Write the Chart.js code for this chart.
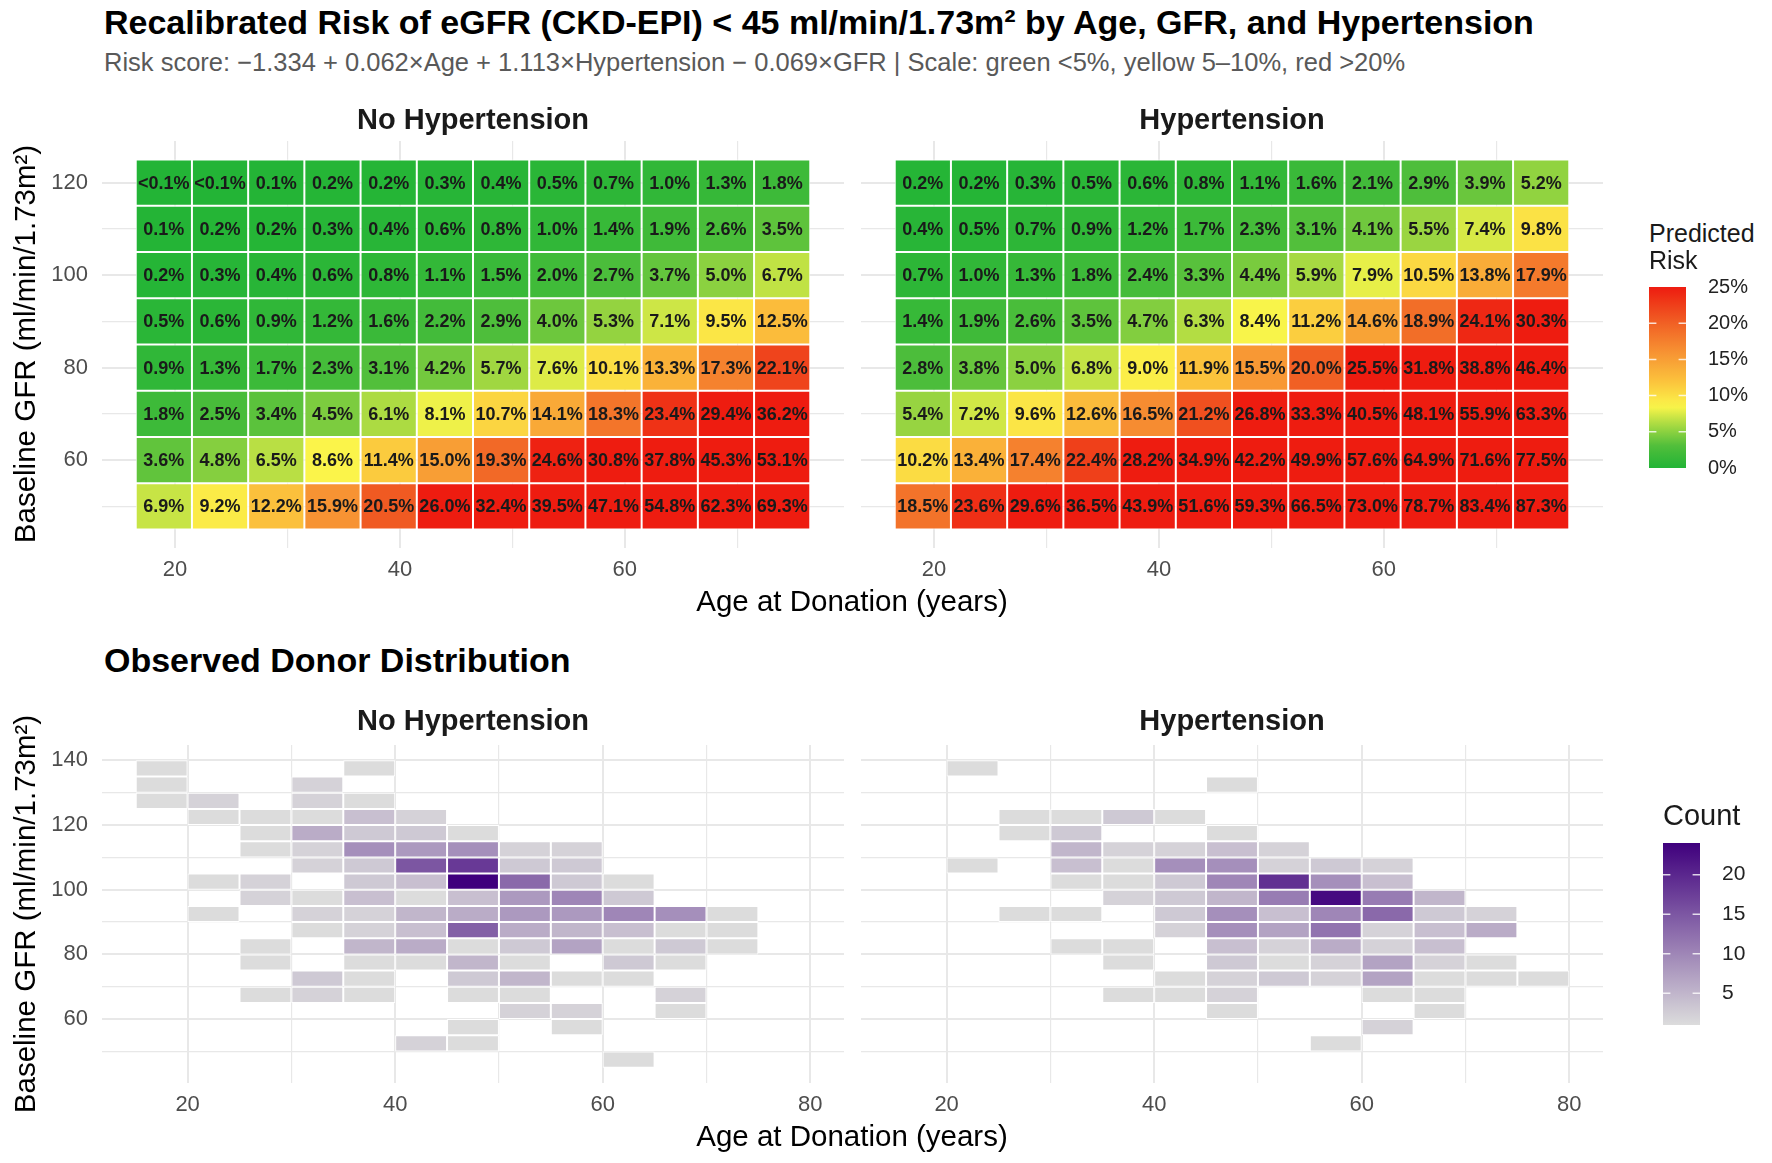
<!DOCTYPE html>
<html>
<head>
<meta charset="utf-8">
<title>Recalibrated risk of eGFR &lt; 45</title>
<script src="https://cdn.jsdelivr.net/npm/chart.js@4.4.1/dist/chart.umd.min.js"></script>
<style>
  body { margin: 0; background: #fff; }
  #page { position: relative; width: 1772px; height: 1163px; overflow: hidden;
          font-family: "Liberation Sans", Arial, Helvetica, sans-serif; }
  .txt { position: absolute; white-space: nowrap; line-height: 1; }
  canvas { position: absolute; }
</style>
</head>
<body>
<div id="page"></div>
<script>
// ---- values ----

// top row: predicted risk (%), rows = baseline GFR, cols = age at donation
const riskAges = [19, 24, 29, 34, 39, 44, 49, 54, 59, 64, 69, 74];
const riskGfr = [120, 110, 100, 90, 80, 70, 60, 50];
const riskNoHtn = [
  [0.05, 0.05, 0.1, 0.2, 0.2, 0.3, 0.4, 0.5, 0.7, 1.0, 1.3, 1.8],
  [0.1, 0.2, 0.2, 0.3, 0.4, 0.6, 0.8, 1.0, 1.4, 1.9, 2.6, 3.5],
  [0.2, 0.3, 0.4, 0.6, 0.8, 1.1, 1.5, 2.0, 2.7, 3.7, 5.0, 6.7],
  [0.5, 0.6, 0.9, 1.2, 1.6, 2.2, 2.9, 4.0, 5.3, 7.1, 9.5, 12.5],
  [0.9, 1.3, 1.7, 2.3, 3.1, 4.2, 5.7, 7.6, 10.1, 13.3, 17.3, 22.1],
  [1.8, 2.5, 3.4, 4.5, 6.1, 8.1, 10.7, 14.1, 18.3, 23.4, 29.4, 36.2],
  [3.6, 4.8, 6.5, 8.6, 11.4, 15.0, 19.3, 24.6, 30.8, 37.8, 45.3, 53.1],
  [6.9, 9.2, 12.2, 15.9, 20.5, 26.0, 32.4, 39.5, 47.1, 54.8, 62.3, 69.3]
];
const riskHtn = [
  [0.2, 0.2, 0.3, 0.5, 0.6, 0.8, 1.1, 1.6, 2.1, 2.9, 3.9, 5.2],
  [0.4, 0.5, 0.7, 0.9, 1.2, 1.7, 2.3, 3.1, 4.1, 5.5, 7.4, 9.8],
  [0.7, 1.0, 1.3, 1.8, 2.4, 3.3, 4.4, 5.9, 7.9, 10.5, 13.8, 17.9],
  [1.4, 1.9, 2.6, 3.5, 4.7, 6.3, 8.4, 11.2, 14.6, 18.9, 24.1, 30.3],
  [2.8, 3.8, 5.0, 6.8, 9.0, 11.9, 15.5, 20.0, 25.5, 31.8, 38.8, 46.4],
  [5.4, 7.2, 9.6, 12.6, 16.5, 21.2, 26.8, 33.3, 40.5, 48.1, 55.9, 63.3],
  [10.2, 13.4, 17.4, 22.4, 28.2, 34.9, 42.2, 49.9, 57.6, 64.9, 71.6, 77.5],
  [18.5, 23.6, 29.6, 36.5, 43.9, 51.6, 59.3, 66.5, 73.0, 78.7, 83.4, 87.3]
];

// bottom row: donor counts per 5-year x 5-unit bin (lower bin edges), 0 = empty
const countAges = [15, 20, 25, 30, 35, 40, 45, 50, 55, 60, 65, 70, 75];
const countGfr = [135, 130, 125, 120, 115, 110, 105, 100, 95, 90, 85, 80, 75, 70, 65, 60, 55, 50, 45];
const countNoHtn = [
  [1, 0, 0, 0, 1, 0, 0, 0, 0, 0, 0, 0, 0],
  [1, 0, 0, 2, 0, 0, 0, 0, 0, 0, 0, 0, 0],
  [1, 2, 0, 2, 1, 0, 0, 0, 0, 0, 0, 0, 0],
  [0, 1, 1, 1, 4, 2, 0, 0, 0, 0, 0, 0, 0],
  [0, 0, 1, 6, 3, 3, 1, 0, 0, 0, 0, 0, 0],
  [0, 0, 1, 2, 9, 8, 9, 2, 2, 0, 0, 0, 0],
  [0, 0, 0, 2, 3, 15, 18, 3, 3, 0, 0, 0, 0],
  [0, 1, 2, 0, 3, 4, 24, 13, 3, 1, 0, 0, 0],
  [0, 0, 2, 1, 4, 1, 4, 8, 10, 3, 0, 0, 0],
  [0, 1, 0, 2, 2, 5, 6, 8, 8, 10, 9, 1, 0],
  [0, 0, 0, 1, 2, 4, 14, 6, 5, 4, 1, 1, 0],
  [0, 0, 1, 0, 5, 6, 1, 3, 7, 1, 3, 1, 0],
  [0, 0, 1, 0, 1, 1, 5, 1, 0, 3, 1, 0, 0],
  [0, 0, 0, 3, 1, 0, 3, 5, 1, 1, 0, 0, 0],
  [0, 0, 1, 2, 1, 0, 1, 1, 0, 0, 2, 0, 0],
  [0, 0, 0, 0, 0, 0, 0, 2, 2, 0, 1, 0, 0],
  [0, 0, 0, 0, 0, 0, 1, 0, 1, 0, 0, 0, 0],
  [0, 0, 0, 0, 0, 2, 1, 0, 0, 0, 0, 0, 0],
  [0, 0, 0, 0, 0, 0, 0, 0, 0, 1, 0, 0, 0]
];
const countHtn = [
  [0, 1, 0, 0, 0, 0, 0, 0, 0, 0, 0, 0, 0],
  [0, 0, 0, 0, 0, 0, 1, 0, 0, 0, 0, 0, 0],
  [0, 0, 0, 0, 0, 0, 0, 0, 0, 0, 0, 0, 0],
  [0, 0, 1, 1, 3, 1, 0, 0, 0, 0, 0, 0, 0],
  [0, 0, 1, 3, 0, 0, 1, 0, 0, 0, 0, 0, 0],
  [0, 0, 0, 5, 2, 2, 4, 2, 0, 0, 0, 0, 0],
  [0, 1, 0, 4, 1, 9, 9, 2, 3, 2, 0, 0, 0],
  [0, 0, 0, 1, 1, 3, 10, 19, 9, 4, 0, 0, 0],
  [0, 0, 0, 0, 2, 3, 5, 11, 23, 11, 5, 0, 0],
  [0, 0, 1, 1, 0, 3, 9, 4, 10, 13, 3, 2, 0],
  [0, 0, 0, 0, 0, 2, 9, 7, 12, 2, 4, 6, 0],
  [0, 0, 0, 1, 1, 0, 4, 2, 6, 2, 4, 0, 0],
  [0, 0, 0, 0, 1, 0, 3, 1, 2, 7, 2, 1, 0],
  [0, 0, 0, 0, 0, 1, 2, 3, 2, 7, 1, 1, 1],
  [0, 0, 0, 0, 1, 1, 2, 0, 0, 1, 1, 0, 0],
  [0, 0, 0, 0, 0, 0, 1, 0, 0, 0, 1, 0, 0],
  [0, 0, 0, 0, 0, 0, 0, 0, 0, 2, 0, 0, 0],
  [0, 0, 0, 0, 0, 0, 0, 0, 1, 0, 0, 0, 0],
  [0, 0, 0, 0, 0, 0, 0, 0, 0, 0, 0, 0, 0]
];

// labelled ticks
const topAgeLabels = [20, 40, 60];
const topGfrLabels = [60, 80, 100, 120];
const botAgeLabels = [20, 40, 60, 80];
const botGfrLabels = [60, 80, 100, 120, 140];

// ---- colours ----
const riskPalette = [[0, '#22b436'], [3, '#4fbe3b'], [6, '#a9da42'], [8.5, '#fbf54a'],
  [12, '#fbc23c'], [16, '#f79233'], [20.5, '#f05a22'], [25, '#ee1c10']];
const countPalette = [[1, '#dcdcdc'], [24, '#3f007d']];

function hexRgb(h) {
  return [1, 3, 5].map(i => parseInt(h.slice(i, i + 2), 16));
}
function ramp(stops, v) {
  if (v <= stops[0][0]) return stops[0][1];
  for (let i = 1; i < stops.length; i++) {
    if (v <= stops[i][0]) {
      const t = (v - stops[i - 1][0]) / (stops[i][0] - stops[i - 1][0]);
      const a = hexRgb(stops[i - 1][1]), b = hexRgb(stops[i][1]);
      return 'rgb(' + a.map((x, k) => Math.round(x + (b[k] - x) * t)).join(',') + ')';
    }
  }
  return stops[stops.length - 1][1];
}
const riskColor = v => ramp(riskPalette, v);
const countColor = v => ramp(countPalette, v);

// ---- cells ----
function riskCells(grid) {
  const out = [];
  riskGfr.forEach((g, r) => riskAges.forEach((a, c) => {
    out.push({ x: a, y: [g - 5, g + 5], v: grid[r][c] });
  }));
  return out;
}
function countCells(grid) {
  const out = [];
  countGfr.forEach((g, r) => countAges.forEach((a, c) => {
    if (grid[r][c] > 0) out.push({ x: a + 2.5, y: [g, g + 5], v: grid[r][c] });
  }));
  return out;
}

// ---- page helpers ----
const FONT = '"Liberation Sans", Arial, Helvetica, sans-serif';
Chart.defaults.font.family = FONT;
Chart.defaults.animation = false;
Chart.defaults.plugins.legend.display = false;
Chart.defaults.plugins.tooltip.enabled = false;

const page = document.getElementById('page');

function text(str, x, y, size, o) {
  o = o || {};
  const d = document.createElement('div');
  d.className = 'txt';
  d.textContent = str;
  d.style.left = x + 'px';
  d.style.top = y + 'px';
  d.style.fontSize = size + 'px';
  d.style.fontWeight = o.bold ? 'bold' : 'normal';
  d.style.color = o.color || '#000';
  let tf = o.center ? 'translate(-50%,-50%)' : 'translate(0,-50%)';
  if (o.rotate) tf += ' rotate(-90deg)';
  d.style.transform = tf;
  page.appendChild(d);
}

function canvasAt(left, top, w, h) {
  const c = document.createElement('canvas');
  c.width = w;
  c.height = h;
  c.style.left = left + 'px';
  c.style.top = top + 'px';
  c.style.width = w + 'px';
  c.style.height = h + 'px';
  page.appendChild(c);
  return c;
}

// percentage text in every risk tile
const cellText = {
  id: 'cellText',
  afterDatasetsDraw(chart) {
    const ctx = chart.ctx;
    const data = chart.data.datasets[0].data;
    ctx.save();
    ctx.font = 'bold 18px ' + FONT;
    ctx.fillStyle = '#1a1a1a';
    ctx.textAlign = 'center';
    ctx.textBaseline = 'middle';
    chart.getDatasetMeta(0).data.forEach((bar, i) => {
      const v = data[i].v;
      const s = v < 0.1 ? '<0.1%' : v.toFixed(1) + '%';
      ctx.fillText(s, bar.x, (bar.y + bar.base) / 2 + 1);
    });
    ctx.restore();
  }
};

// small white break marks on the colour bars
const barTicks = {
  id: 'barTicks',
  afterDatasetsDraw(chart) {
    const a = chart.chartArea, y = chart.scales.y, ctx = chart.ctx;
    const w = (a.right - a.left) / 5;
    ctx.save();
    ctx.strokeStyle = 'rgba(255,255,255,0.8)';
    ctx.lineWidth = 1.5;
    y.ticks.forEach(t => {
      const p = y.getPixelForValue(t.value);
      if (p <= a.top + 1 || p >= a.bottom - 1) return;
      ctx.beginPath();
      ctx.moveTo(a.left, p); ctx.lineTo(a.left + w, p);
      ctx.moveTo(a.right - w, p); ctx.lineTo(a.right, p);
      ctx.stroke();
    });
    ctx.restore();
  }
};

function axis(min, max, labels, pad, show, fit) {
  return {
    type: 'linear', min: min, max: max, offset: false,
    border: { display: false },
    grid: {
      offset: false, drawTicks: false, color: '#e8e8e8',
      lineWidth: c => (c.tick && c.tick.value % 20 === 0) ? 2 : 1.2
    },
    ticks: {
      display: show, stepSize: 10, includeBounds: false, autoSkip: false, maxRotation: 0,
      padding: pad, color: '#4d4d4d', font: { size: 22 },
      callback: v => labels.includes(v) ? String(v) : ''
    },
    afterFit: fit
  };
}

function heatPanel(rect, sc, cells, color, withY, labelled) {
  const top = 30, axisH = 50;
  const axisW = withY ? rect.x0 - 40 : 0;
  const left = rect.x0 - axisW;
  const cv = canvasAt(left, rect.y0 - top, rect.x1 - left, rect.y1 - rect.y0 + top + axisH);
  return new Chart(cv, {
    type: 'bar',
    data: {
      datasets: [{
        data: cells,
        backgroundColor: c => c.raw ? color(c.raw.v) : '#cccccc',
        borderColor: '#ffffff',
        borderWidth: 1,
        borderSkipped: false,
        inflateAmount: 0,
        barPercentage: 1,
        categoryPercentage: 1
      }]
    },
    options: {
      responsive: false,
      layout: { padding: { top: top, right: 0, bottom: 0, left: 0 } },
      scales: {
        x: axis(sc.x[0], sc.x[1], sc.xLab, 9, true, s => { s.height = axisH; }),
        y: axis(sc.y[0], sc.y[1], sc.yLab, 14, withY, s => { s.width = axisW; })
      }
    },
    plugins: labelled ? [cellText] : []
  });
}

function colorBar(rect, min, max, color, fmt, size) {
  const pad = 28, axisW = 80;
  const cv = canvasAt(rect.x0, rect.y0 - pad, rect.x1 - rect.x0 + axisW, rect.y1 - rect.y0 + 2 * pad);
  return new Chart(cv, {
    type: 'bar',
    data: {
      labels: [''],
      datasets: [{
        data: [[min, max]],
        barPercentage: 1, categoryPercentage: 1, borderWidth: 0, inflateAmount: 0,
        backgroundColor: c => {
          const a = c.chart.chartArea;
          if (!a) return '#cccccc';
          const g = c.chart.ctx.createLinearGradient(0, a.bottom, 0, a.top);
          for (let i = 0; i <= 24; i++) {
            const t = i / 24;
            g.addColorStop(t, color(min + t * (max - min)));
          }
          return g;
        }
      }]
    },
    options: {
      responsive: false,
      layout: { padding: { top: pad, bottom: pad, left: 0, right: 0 } },
      scales: {
        x: { display: false },
        y: {
          position: 'right', min: min, max: max,
          border: { display: false }, grid: { display: false },
          ticks: { stepSize: 5, includeBounds: false, padding: 14, color: '#222', font: { size: size }, callback: fmt },
          afterFit: s => { s.width = axisW; }
        }
      }
    },
    plugins: [barTicks]
  });
}

// ---- layout ----
const topScale = { x: [13.5, 79.5], y: [41, 129], xLab: topAgeLabels, yLab: topGfrLabels };
const botScale = { x: [11.75, 83.25], y: [40.25, 144.75], xLab: botAgeLabels, yLab: botGfrLabels };

heatPanel({ x0: 102, x1: 844, y0: 141, y1: 548 }, topScale, riskCells(riskNoHtn), riskColor, true, true);
heatPanel({ x0: 861, x1: 1603, y0: 141, y1: 548 }, topScale, riskCells(riskHtn), riskColor, false, true);
heatPanel({ x0: 102, x1: 844, y0: 745, y1: 1083 }, botScale, countCells(countNoHtn), countColor, true, false);
heatPanel({ x0: 861, x1: 1603, y0: 745, y1: 1083 }, botScale, countCells(countHtn), countColor, false, false);

colorBar({ x0: 1649, x1: 1686, y0: 287, y1: 468 }, 0, 25, riskColor, v => v + '%', 20);
colorBar({ x0: 1663, x1: 1700, y0: 843, y1: 1025 }, 1, 24, countColor, v => String(v), 21);

text('Recalibrated Risk of eGFR (CKD-EPI) < 45 ml/min/1.73m² by Age, GFR, and Hypertension', 104, 22, 34, { bold: true });
text('Risk score: −1.334 + 0.062×Age + 1.113×Hypertension − 0.069×GFR | Scale: green <5%, yellow 5–10%, red >20%', 104, 63, 25.5, { color: '#595959' });
text('No Hypertension', 473, 119, 29, { bold: true, center: true, color: '#1a1a1a' });
text('Hypertension', 1232, 119, 29, { bold: true, center: true, color: '#1a1a1a' });
text('Age at Donation (years)', 852, 601, 29.5, { center: true });
text('Baseline GFR (ml/min/1.73m²)', 25, 344, 29.5, { center: true, rotate: true });
text('Predicted', 1649, 233, 25, { color: '#1a1a1a' });
text('Risk', 1649, 260, 25, { color: '#1a1a1a' });

text('Observed Donor Distribution', 104, 660, 34, { bold: true });
text('No Hypertension', 473, 720, 29, { bold: true, center: true, color: '#1a1a1a' });
text('Hypertension', 1232, 720, 29, { bold: true, center: true, color: '#1a1a1a' });
text('Age at Donation (years)', 852, 1136, 29.5, { center: true });
text('Baseline GFR (ml/min/1.73m²)', 25, 914, 29.5, { center: true, rotate: true });
text('Count', 1663, 815, 29, { color: '#1a1a1a' });
</script>
</body>
</html>
